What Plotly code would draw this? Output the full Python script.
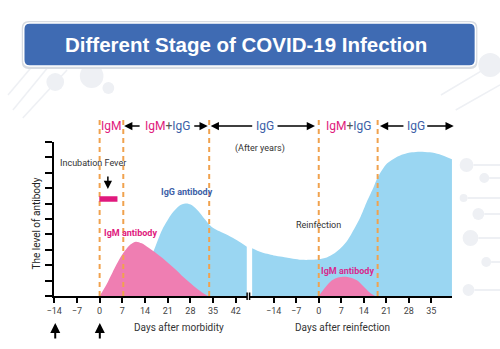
import plotly.graph_objects as go

W, H = 500, 349

# ---------------- data ----------------
left_ticks = [-14, -7, 0, 7, 14, 21, 28, 35, 42]
right_ticks = [-14, -7, 0, 7, 14, 21, 28, 35]

igm1_days = [0, 2, 4, 6, 7.5, 9.5, 11.2, 13, 15, 17, 20, 23, 26, 29, 31.5, 33.4]
igm1_level = [0, 0.7, 1.55, 2.35, 2.85, 3.35, 3.53, 3.42, 3.15, 2.85, 2.35, 1.8, 1.2, 0.65, 0.25, 0]

igg1_days = [9, 12, 14.5, 16.8, 19.3, 22.3, 24.5, 26.5, 28.5, 30.5, 32.4, 34.5, 37, 39.6, 42.5, 45.4]
igg1_level = [0, 0.9, 2.0, 3.0, 4.3, 5.35, 5.85, 6.0, 5.9, 5.5, 5.0, 4.5, 4.2, 3.95, 3.6, 3.2]

igg2_days = [-20.7, -18, -14, -11.4, -8, -5.3, -2, 0, 2.5, 4.9, 7, 9, 11, 13, 15, 17.1,
             18.3, 21.2, 24, 26.3, 29, 31.4, 34.5, 37.5, 41.4]
igg2_level = [3.1, 2.85, 2.63, 2.55, 2.42, 2.35, 2.35, 2.38, 2.5, 2.77, 3.15, 3.64, 4.35, 5.15,
              6.15, 7.1, 7.7, 8.6, 9.0, 9.2, 9.33, 9.37, 9.33, 9.2, 8.88]

igm2_days = [0, 2, 4, 6, 8, 10, 12, 14, 16, 17.5]
igm2_level = [0, 0.55, 1.0, 1.2, 1.25, 1.18, 1.0, 0.6, 0.2, 0]

stage_left = [0, 7.3, 33.8]
stage_right = [0, 18.3]
fever_days = [-0.1, 5.5]
fever_level = [6.12, 6.48]

# ---------------- styles ----------------
BLUE_AREA = "#9AD6F2"
PINK_AREA = "#EF7EB2"
MAGENTA = "#E0197D"
IGM_LABEL = "#D82A8E"
IGG_BLUE = "#3D5FA8"
ORANGE = "#F0A24E"
TXT = "#333333"
FONT = "Roboto"
DECO = "#EEF0F4"


def px(x):
    return x / W


def py(y):
    return 1 - y / H


fig = go.Figure()

for xs, ys, xa, col in ((igg1_days, igg1_level, "x", BLUE_AREA),
                        (igm1_days, igm1_level, "x", PINK_AREA),
                        (igg2_days, igg2_level, "x2", BLUE_AREA),
                        (igm2_days, igm2_level, "x2", PINK_AREA)):
    fig.add_trace(go.Scatter(x=xs, y=ys, xaxis=xa, yaxis="y", mode="lines",
                             line=dict(width=0, shape="spline", smoothing=0.8), fill="tozeroy",
                             fillcolor=col, hoverinfo="skip"))

axis_common = dict(showline=True, linecolor="black", linewidth=2, ticks="outside", ticklen=5,
                   tickwidth=2, tickcolor="black", showgrid=False, zeroline=False,
                   tickfont=dict(family=FONT, size=9, color="#444444"), fixedrange=True)

fig.update_layout(
    width=W, height=H, margin=dict(l=0, r=0, t=0, b=0),
    paper_bgcolor="white", plot_bgcolor="rgba(0,0,0,0)", showlegend=False,
    xaxis=dict(domain=[px(47), px(243)], range=[-14, 45.5], tickvals=left_ticks,
               anchor="y", **axis_common),
    xaxis2=dict(domain=[px(245.5), px(451.5)], range=[-21.5, 41.5], tickvals=right_ticks,
                anchor="y", **axis_common),
    yaxis=dict(domain=[py(296), py(142)], range=[0, 10], tickvals=list(range(0, 11)),
               showticklabels=False, showline=True, linecolor="black", linewidth=2,
               ticks="outside", ticklen=7, tickwidth=2, tickcolor="black", showgrid=False,
               zeroline=False, anchor="x", fixedrange=True),
)

shapes = []


def rrect(x0, y0, x1, y1, r):
    X0, X1 = px(x0), px(x1)
    YT, YB = py(y0), py(y1)
    rx, ry = r / W, r / H
    return (f"M {X0+rx},{YT} L {X1-rx},{YT} Q {X1},{YT} {X1},{YT-ry} "
            f"L {X1},{YB+ry} Q {X1},{YB} {X1-rx},{YB} L {X0+rx},{YB} "
            f"Q {X0},{YB} {X0},{YB+ry} L {X0},{YT-ry} Q {X0},{YT} {X0+rx},{YT} Z")


def deco_circle(cx, cy, r):
    shapes.append(dict(type="circle", xref="paper", yref="paper", x0=px(cx - r), x1=px(cx + r),
                       y0=py(cy + r), y1=py(cy - r), fillcolor=DECO, line=dict(width=0),
                       layer="below"))


def deco_line(x0, y0, x1, y1, w=1.5):
    shapes.append(dict(type="line", xref="paper", yref="paper", x0=px(x0), x1=px(x1),
                       y0=py(y0), y1=py(y1), line=dict(color=DECO, width=w), layer="below"))


# faint background decoration
for (a, b, c, d) in ((0, 95, 30, 60), (5, 110, 45, 62), (15, 118, 60, 70), (440, 95, 500, 60),
                     (455, 110, 500, 85)):
    deco_line(a, b, c, d)
for (cx, cy, r) in ((48, 82, 9), (85, 76, 12), (102, 88, 6), (490, 65, 12), (466, 165, 7),
                    (484, 178, 5), (463, 198, 4), (478, 214, 6), (470, 238, 8), (486, 262, 5),
                    (468, 290, 6)):
    deco_circle(cx, cy, r)
for (a, b) in ((473, 165), (489, 178), (467, 198), (484, 214), (478, 238), (491, 262), (474, 290)):
    deco_line(a, b, 500, b, w=2)

# banner shadow + banner
shapes.append(dict(type="path", xref="paper", yref="paper", path=rrect(14, 21, 477, 69, 7),
                   fillcolor="#D8DCE2", line=dict(width=0), layer="below"))
shapes.append(dict(type="path", xref="paper", yref="paper", path=rrect(16, 23, 475, 66, 6),
                   fillcolor="#3F6BB3", line=dict(color="white", width=1.5), layer="below"))

# stage boundaries
for d in stage_left:
    shapes.append(dict(type="line", xref="x", yref="paper", x0=d, x1=d, y0=py(296), y1=py(118),
                       line=dict(color=ORANGE, width=2, dash="5px,4px"), layer="above"))
for d in stage_right:
    shapes.append(dict(type="line", xref="x2", yref="paper", x0=d, x1=d, y0=py(296), y1=py(118),
                       line=dict(color=ORANGE, width=2, dash="5px,4px"), layer="above"))

# fever bar
shapes.append(dict(type="rect", xref="x", yref="y", x0=fever_days[0], x1=fever_days[1],
                   y0=fever_level[0], y1=fever_level[1], fillcolor=MAGENTA, line=dict(width=0)))

# axis break marks
for ref, xv in (("x domain", 1), ("x2 domain", 0)):
    shapes.append(dict(type="line", xref=ref, yref="paper", x0=xv, x1=xv, y0=py(300), y1=py(292.5),
                       line=dict(color="black", width=1.5)))

fig.update_layout(shapes=shapes)

ann = []


def text(x, y, s, size, color=TXT, family=FONT, bold=False, angle=0):
    ann.append(dict(xref="paper", yref="paper", x=px(x), y=py(y), text=s, showarrow=False,
                    xanchor="center", yanchor="middle", textangle=angle,
                    font=dict(family=family, size=size, color=color,
                              weight="bold" if bold else "normal")))


def arrow(hx, hy, tx, ty, width=1.5, size=1.1):
    ann.append(dict(xref="paper", yref="paper", x=px(hx), y=py(hy), ax=tx - hx, ay=ty - hy,
                    axref="pixel", ayref="pixel", text="", showarrow=True, arrowhead=2,
                    arrowsize=size, arrowwidth=width, arrowcolor="black", standoff=0,
                    startstandoff=0))


text(241.5, 45, "Different Stage of COVID-19 Infection", 20.5, color="white",
     family="Liberation Sans, Arial", bold=True)

both = (f"<span style='color:{MAGENTA}'>IgM</span><span style='color:#555'>+</span>"
        f"<span style='color:{IGG_BLUE}'>IgG</span>")
text(105, 126, "IgM", 12, color=MAGENTA)
text(161.7, 126, both, 12)
text(261, 126, "IgG", 12, color=IGG_BLUE)
text(345.8, 126, both, 12)
text(415, 126, "IgG", 12, color=IGG_BLUE)

arrow(118, 126, 135, 126)
arrow(203, 126, 188, 126)
arrow(206, 126, 249, 126)
arrow(312, 126, 273, 126)
arrow(378, 126, 403, 126)
arrow(453, 126, 425, 126)

text(256.5, 148, "(After years)", 9)
text(86.3, 163, "Incubation Fever", 9)
arrow(101.5, 189, 101.5, 175, width=1.5)
text(182, 191.7, "IgG antibody", 9, color=IGG_BLUE, bold=True)
text(124.3, 232.7, "IgM antibody", 9, color=MAGENTA, bold=True)
text(316, 225, "Reinfection", 9)
text(345, 270.7, "IgM antibody", 9, color=IGM_LABEL, bold=True)
text(174, 327, "Days after morbidity", 10)
text(340, 327, "Days after reinfection", 10)
text(28, 224, "The level of antibody", 10, color="#222222", angle=-90)

arrow(48, 323, 48, 340, width=2, size=1)
arrow(93.3, 323, 93.3, 340, width=2, size=1)

fig.update_layout(annotations=ann)

fig.write_html("out.html")
